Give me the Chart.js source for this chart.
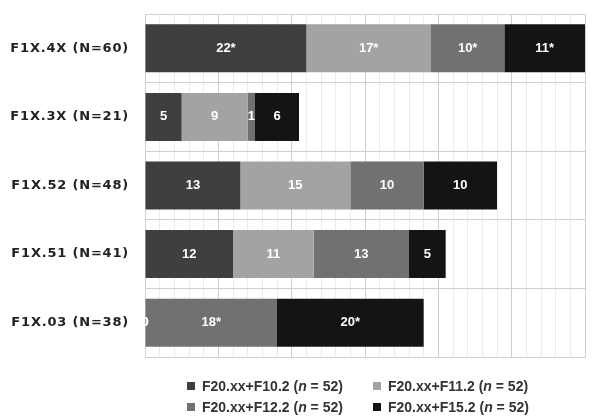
<!DOCTYPE html>
<html lang="en">
<head>
    <meta charset="UTF-8">
    <title>Chart</title>
    <style>
        body { margin: 0; background: #fff; }
        #wrap { position: relative; width: 598px; height: 418px; }
        #legend {
            position: absolute; left: 187px; top: 376px;
            display: grid; grid-template-columns: 186px 186px; row-gap: 2px;
            font: bold 14px "Liberation Sans", Arial, sans-serif; color: #333;
        }
        #legend div { display: flex; align-items: center; height: 19px; white-space: nowrap; }
        #legend span.box { width: 8px; height: 8px; margin-right: 7px; display: inline-block; }
    </style>
</head>
<body>
    <div id="wrap">
        <canvas id="chart" width="598" height="418"></canvas>
        <div id="legend"></div>
    </div>

    <script src="https://cdn.jsdelivr.net/npm/chart.js"></script>
    <script>
        const categories = ["F1X.4X (N=60)", "F1X.3X (N=21)", "F1X.52 (N=48)", "F1X.51 (N=41)", "F1X.03 (N=38)"]
        const seriesNames = ["F20.xx+F10.2", "F20.xx+F11.2", "F20.xx+F12.2", "F20.xx+F15.2"]
        const seriesN = [52, 52, 52, 52]

        const f102 = [22, 5, 13, 12, 0]
        const f112 = [17, 9, 15, 11, 0]
        const f122 = [10, 1, 10, 13, 18]
        const f152 = [11, 6, 10, 5, 20]

        // which values carry an asterisk
        const f102Star = [true, false, false, false, false]
        const f112Star = [true, false, false, false, false]
        const f122Star = [true, false, false, false, true]
        const f152Star = [true, false, false, false, true]

        const colors = ["#3f3f3f", "#a3a3a3", "#717171", "#141414"]

        const allValues = [f102, f112, f122, f152]
        const allStars = [f102Star, f112Star, f122Star, f152Star]

        const barLabels = {
            id: "barLabels",
            afterDatasetsDraw(chart) {
                const ctx = chart.ctx
                ctx.save()
                ctx.font = "bold 13px 'Liberation Sans', Arial, sans-serif"
                ctx.fillStyle = "#ffffff"
                ctx.textAlign = "center"
                ctx.textBaseline = "middle"
                chart.data.datasets.forEach((ds, di) => {
                    chart.getDatasetMeta(di).data.forEach((bar, i) => {
                        const txt = ds.data[i] + (allStars[di][i] ? "*" : "")
                        ctx.fillText(txt, (bar.x + bar.base) / 2, bar.y)
                    })
                })
                ctx.restore()
            }
        }

        // spaced-out category labels
        const spacing = {
            id: "spacing",
            beforeDraw(chart) { chart.ctx.letterSpacing = "0.8px" },
            beforeDatasetsDraw(chart) { chart.ctx.letterSpacing = "0px" }
        }

        new Chart(document.getElementById("chart"), {
            type: "bar",
            data: {
                labels: categories,
                datasets: seriesNames.map((name, i) => ({
                    label: name,
                    data: allValues[i],
                    backgroundColor: colors[i],
                    borderWidth: 0,
                    barPercentage: 0.7,
                    categoryPercentage: 1
                }))
            },
            options: {
                indexAxis: "y",
                responsive: false,
                animation: false,
                layout: { padding: { top: 14, right: 13, bottom: 61, left: 0 } },
                plugins: { legend: { display: false }, tooltip: { enabled: false } },
                scales: {
                    x: {
                        stacked: true,
                        min: 0, max: 60,
                        ticks: { display: false, stepSize: 2 },
                        grid: {
                            drawTicks: false,
                            color: c => (c.tick && c.tick.value % 10 === 0) ? "#cfcfcf" : "#ebebeb"
                        },
                        border: { color: "#cfcfcf" }
                    },
                    y: {
                        stacked: true,
                        afterFit: s => { s.width = 145; s.paddingTop = 0; s.paddingBottom = 0 },
                        ticks: {
                            color: "#222",
                            padding: 16,
                            font: { family: "DejaVu Sans", weight: "bold", size: 13 }
                        },
                        grid: { offset: true, drawTicks: false, color: "#cfcfcf" },
                        border: { color: "#cfcfcf" }
                    }
                }
            },
            plugins: [barLabels, spacing]
        })

        let legendHTML = ""
        seriesNames.forEach((name, i) => legendHTML += `
            <div><span class="box" style="background:${colors[i]}"></span>${name}&nbsp;(<i>n</i>&nbsp;=&nbsp;${seriesN[i]})</div>
        `)
        document.getElementById("legend").innerHTML = legendHTML
    </script>
</body>
</html>
